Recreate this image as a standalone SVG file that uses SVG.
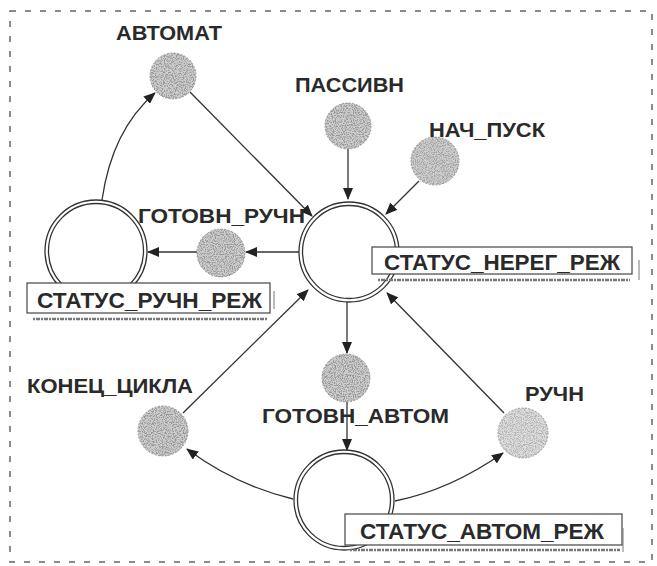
<svg xmlns="http://www.w3.org/2000/svg" width="657" height="566" viewBox="0 0 657 566">
<style>
.lbl{font-family:"Liberation Sans",Arial,sans-serif;font-weight:bold;font-size:21px;fill:#2a2a2a}
.btx{font-family:"Liberation Sans",Arial,sans-serif;font-weight:bold;font-size:22px;fill:#2a2a2a}
.ring{fill:none;stroke:#333;stroke-width:1.3}
.box{fill:#fff;stroke:#444;stroke-width:1.2}
.shadow{stroke:#777;stroke-width:2.5;stroke-dasharray:2 1 4 1}
.edge{fill:none;stroke:#333;stroke-width:1.3;marker-end:url(#ah)}
.dot{fill:#cfcfcf;stroke:#888;stroke-width:0.8;stroke-dasharray:2 1.5}
.tex{fill:#555;filter:url(#stip)}
</style>
<defs>
<marker id="ah" viewBox="0 0 12 10" refX="11" refY="5" markerWidth="12" markerHeight="10" markerUnits="userSpaceOnUse" orient="auto">
<path d="M0,0 L12,5 L0,10 Z" fill="#222"/>
</marker>
<filter id="stip" x="0" y="0" width="1" height="1">
<feTurbulence type="fractalNoise" baseFrequency="0.9" numOctaves="2" seed="3" result="n"/>
<feColorMatrix in="n" type="matrix" values="0 0 0 0 0.3 0 0 0 0 0.3 0 0 0 0 0.3 0 0 0 -4 2.3" result="d"/>
<feComposite in="d" in2="SourceGraphic" operator="in"/>
</filter>
</defs>
<rect x="10" y="11" width="642" height="551" fill="none" stroke="#666" stroke-width="1.5" stroke-dasharray="6 9"/>
<g id="connectors">
<path class="edge" d="M102,200 Q112,130 155,93"/>
<path class="edge" d="M190,92 L312,216"/>
<path class="edge" d="M348,149 L348,199"/>
<path class="edge" d="M419,181 L386,214"/>
<path class="edge" d="M299,252 L246,252"/>
<path class="edge" d="M197,252 L148,252"/>
<path class="edge" d="M347,302 L347,353"/>
<path class="edge" d="M347,402 L347,450"/>
<path class="edge" d="M183,413 L308,290"/>
<path class="edge" d="M293,499 Q235,485 187,449"/>
<path class="edge" d="M395,501 Q450,490 503,453"/>
<path class="edge" d="M504,413 L387,293"/>
</g>
<g id="status_nereg">
<circle class="ring" cx="349" cy="252" r="50"/>
<circle class="ring" cx="349" cy="252" r="46.5"/>
<line class="shadow" x1="378" y1="280" x2="630" y2="280"/>
<rect class="box" x="372" y="247" width="260" height="27"/>
<line x1="639" y1="260" x2="639" y2="280" stroke="#777" stroke-width="1"/>
<text class="btx" x="384" y="270" textLength="236" lengthAdjust="spacingAndGlyphs">СТАТУС_НЕРЕГ_РЕЖ</text>
</g>
<g id="status_ruchn">
<circle class="ring" cx="96" cy="251" r="51"/>
<circle class="ring" cx="96" cy="251" r="47.5"/>
<line class="shadow" x1="33" y1="319" x2="267" y2="319"/>
<rect class="box" x="27" y="283" width="243" height="30"/>
<line x1="274" y1="291" x2="274" y2="309" stroke="#777" stroke-width="1"/>
<text class="btx" x="37" y="308" textLength="225" lengthAdjust="spacingAndGlyphs">СТАТУС_РУЧН_РЕЖ</text>
</g>
<g id="status_avtom">
<circle class="ring" cx="344" cy="500" r="50"/>
<circle class="ring" cx="344" cy="500" r="46.5"/>
<line class="shadow" x1="350" y1="550" x2="620" y2="550"/>
<rect class="box" x="345" y="514" width="277" height="31"/>
<line x1="623" y1="528" x2="623" y2="552" stroke="#777" stroke-width="1"/>
<text class="btx" x="360" y="539" textLength="244" lengthAdjust="spacingAndGlyphs">СТАТУС_АВТОМ_РЕЖ</text>
</g>
<g id="avtomat">
<circle class="dot" cx="173" cy="76" r="23"/>
<circle class="tex" cx="173" cy="76" r="23"/>
<text class="lbl" x="116" y="40" textLength="106" lengthAdjust="spacingAndGlyphs">АВТОМАТ</text>
</g>
<g id="passivn">
<circle class="dot" cx="348" cy="126" r="23"/>
<circle class="tex" cx="348" cy="126" r="23"/>
<text class="lbl" x="295" y="92" textLength="109" lengthAdjust="spacingAndGlyphs">ПАССИВН</text>
</g>
<g id="nach_pusk">
<circle class="dot" cx="435" cy="161" r="24"/>
<circle class="tex" cx="435" cy="161" r="24" opacity="0.8"/>
<text class="lbl" x="429" y="137" textLength="116" lengthAdjust="spacingAndGlyphs">НАЧ_ПУСК</text>
</g>
<g id="gotovn_ruchn">
<circle class="dot" cx="221" cy="253" r="24"/>
<circle class="tex" cx="221" cy="253" r="24"/>
<text class="lbl" x="138" y="223" textLength="167" lengthAdjust="spacingAndGlyphs">ГОТОВН_РУЧН</text>
</g>
<g id="gotovn_avtom">
<circle class="dot" cx="346" cy="378" r="24"/>
<circle class="tex" cx="346" cy="378" r="24"/>
<text class="lbl" x="262" y="423" textLength="187" lengthAdjust="spacingAndGlyphs">ГОТОВН_АВТОМ</text>
</g>
<g id="konec_cikla">
<circle class="dot" cx="163" cy="431" r="25"/>
<circle class="tex" cx="163" cy="431" r="25"/>
<text class="lbl" x="27" y="393" textLength="166" lengthAdjust="spacingAndGlyphs">КОНЕЦ_ЦИКЛА</text>
</g>
<g id="ruchn">
<circle class="dot" cx="523" cy="433" r="25" style="fill:#dedede"/>
<circle class="tex" cx="523" cy="433" r="25" opacity="0.6"/>
<text class="lbl" x="525" y="401" textLength="59" lengthAdjust="spacingAndGlyphs">РУЧН</text>
</g>
</svg>
